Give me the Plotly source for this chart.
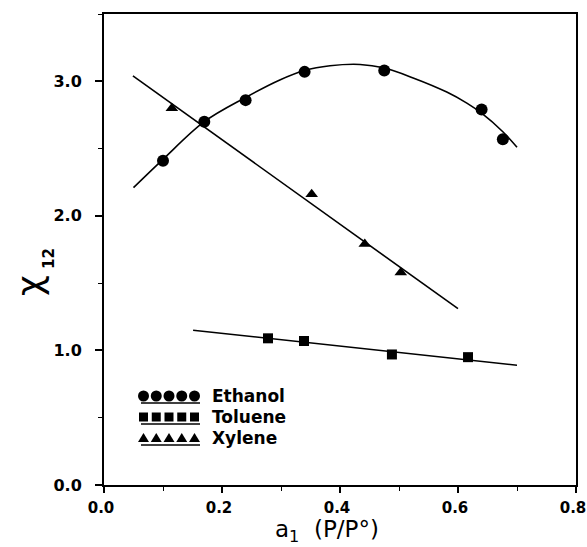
import plotly.graph_objects as go

# ---- data ----
eth_x = [0.10, 0.17, 0.24, 0.34, 0.475, 0.64, 0.676]
eth_y = [2.41, 2.70, 2.86, 3.07, 3.08, 2.79, 2.57]
eth_fit_x = [0.05, 0.10, 0.17, 0.24, 0.298, 0.34, 0.383, 0.434, 0.474, 0.524, 0.581, 0.615, 0.640, 0.676, 0.70]
eth_fit_y = [2.21, 2.42, 2.70, 2.88, 3.01, 3.08, 3.115, 3.125, 3.10, 3.025, 2.92, 2.838, 2.763, 2.625, 2.51]

tol_x = [0.278, 0.339, 0.488, 0.617]
tol_y = [1.09, 1.07, 0.97, 0.95]
tol_fit_x = [0.151, 0.70]
tol_fit_y = [1.15, 0.89]

xyl_x = [0.115, 0.352, 0.442, 0.503]
xyl_y = [2.80, 2.16, 1.79, 1.58]
xyl_fit_x = [0.049, 0.600]
xyl_fit_y = [3.04, 1.31]

legend_names = ["Ethanol", "Toluene", "Xylene"]
x_ticks = [0.0, 0.2, 0.4, 0.6, 0.8]
x_ticklabels = ["0.0", "0.2", "0.4", "0.6", "0.8"]
y_ticks = [0.0, 1.0, 2.0, 3.0]
y_ticklabels = ["0.0", "1.0", "2.0", "3.0"]

W, H = 587, 547
ML, MR, MT, MB = 104, 11, 14, 62
PW, PH = W - ML - MR, H - MT - MB

def xp(px):
    return (px - ML) / PW

def yp(py):
    return (H - MB - py) / PH

fig = go.Figure()
line = dict(color="black", width=1.6)
fig.add_trace(go.Scatter(x=eth_fit_x, y=eth_fit_y, mode="lines", line=dict(shape="spline", smoothing=1.0, **line), showlegend=False))
fig.add_trace(go.Scatter(x=tol_fit_x, y=tol_fit_y, mode="lines", line=line, showlegend=False))
fig.add_trace(go.Scatter(x=xyl_fit_x, y=xyl_fit_y, mode="lines", line=line, showlegend=False))
fig.add_trace(go.Scatter(x=eth_x, y=eth_y, mode="markers", marker=dict(symbol="circle", size=12, color="black"), showlegend=False))
fig.add_trace(go.Scatter(x=tol_x, y=tol_y, mode="markers", marker=dict(symbol="square", size=10, color="black"), showlegend=False))
fig.add_trace(go.Scatter(x=xyl_x, y=xyl_y, mode="markers", marker=dict(symbol="triangle-up", size=11, color="black"), showlegend=False))

# ---- hand-drawn style legend ----
shapes = []
annotations = []
row_y = [396, 417, 438]
step = 12.75
for r, name in enumerate(legend_names):
    cy = row_y[r]
    for i in range(5):
        cx = 143.5 + i * step
        if r == 0:
            shapes.append(dict(type="circle", xref="paper", yref="paper", xsizemode="pixel", ysizemode="pixel",
                               xanchor=xp(cx), yanchor=yp(cy), x0=-5.5, x1=5.5, y0=-5.5, y1=5.5,
                               fillcolor="black", line=dict(width=0)))
        elif r == 1:
            shapes.append(dict(type="rect", xref="paper", yref="paper", xsizemode="pixel", ysizemode="pixel",
                               xanchor=xp(cx), yanchor=yp(cy), x0=-4.5, x1=4.5, y0=-4.5, y1=4.5,
                               fillcolor="black", line=dict(width=0)))
        else:
            shapes.append(dict(type="path", xref="paper", yref="paper", xsizemode="pixel", ysizemode="pixel",
                               xanchor=xp(cx), yanchor=yp(cy), path="M -5.5 -4 L 5.5 -4 L 0 5 Z",
                               fillcolor="black", line=dict(width=0)))
    shapes.append(dict(type="line", xref="paper", yref="paper", x0=xp(141), x1=xp(200), y0=yp(cy + 7), y1=yp(cy + 7),
                       line=dict(color="black", width=1.3)))
    annotations.append(dict(text=name, xref="paper", yref="paper", x=xp(210), y=yp(cy), xanchor="left", yanchor="middle",
                            showarrow=False, font=dict(family="DejaVu Sans", size=17, color="black", weight="bold")))

# axis titles
annotations.append(dict(text="χ", xref="paper", yref="paper", x=xp(29), y=yp(286), textangle=-90,
                        xanchor="center", yanchor="middle", showarrow=False,
                        font=dict(family="DejaVu Sans", size=36, color="black")))
annotations.append(dict(text="12", xref="paper", yref="paper", x=xp(49), y=yp(259), textangle=-90,
                        xanchor="center", yanchor="middle", showarrow=False,
                        font=dict(family="DejaVu Sans", size=15, color="black", weight="bold")))
annotations.append(dict(text="a<sub>1</sub>  (P/P°)", xref="paper", yref="paper", x=xp(327), y=yp(531),
                        xanchor="center", yanchor="middle", showarrow=False,
                        font=dict(family="DejaVu Sans", size=23, color="black")))

xtickfont = dict(family="DejaVu Sans", size=15, color="black", weight="bold")
ytickfont = dict(family="DejaVu Sans", size=16, color="black", weight="bold")
fig.update_layout(
    width=W, height=H,
    margin=dict(l=ML, r=MR, t=MT, b=MB, autoexpand=False),
    paper_bgcolor="white", plot_bgcolor="white",
    shapes=shapes, annotations=annotations,
    xaxis=dict(range=[0, 0.8], tickvals=x_ticks, ticktext=x_ticklabels, showgrid=False, zeroline=False,
               showline=True, linecolor="black", linewidth=2, mirror=True, automargin=False,
               ticks="outside", ticklen=6, tickwidth=1.5, tickcolor="black", tickfont=xtickfont,
               ticklabelstandoff=2, ticklabelshift=-3, ticklabeloverflow="allow",
               minor=dict(dtick=0.1, tick0=0, ticks="outside", ticklen=4, tickwidth=1.2, tickcolor="black", showgrid=False)),
    yaxis=dict(range=[0, 3.5], tickvals=y_ticks, ticktext=y_ticklabels, showgrid=False, zeroline=False,
               showline=True, linecolor="black", linewidth=2, mirror=True, automargin=False,
               ticks="outside", ticklen=7, tickwidth=1.5, tickcolor="black", tickfont=ytickfont,
               ticklabelstandoff=10,
               minor=dict(dtick=0.5, tick0=0, ticks="outside", ticklen=4, tickwidth=1.2, tickcolor="black", showgrid=False)),
)
fig.write_html("out.html", config={"displayModeBar": False},
               post_script="document.body.style.margin='0';document.body.style.overflow='hidden';")
